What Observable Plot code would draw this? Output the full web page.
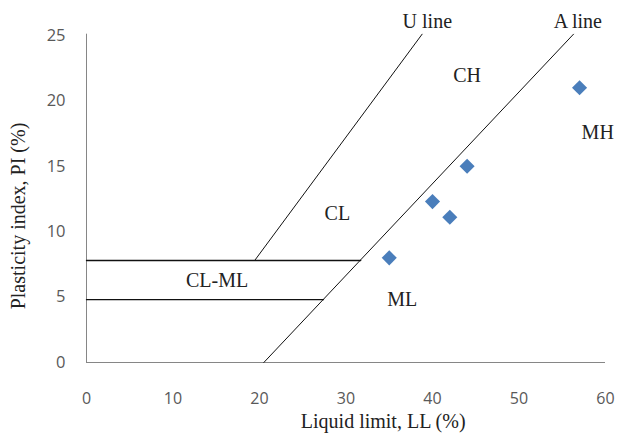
<!DOCTYPE html>
<html>
<head>
<meta charset="utf-8">
<script src="https://cdn.jsdelivr.net/npm/d3@7"></script>
<script src="https://cdn.jsdelivr.net/npm/@observablehq/plot@0.6"></script>
<style>
  html, body { margin: 0; padding: 0; background: #fff; }
</style>
</head>
<body>
<div id="chart"></div>
<script>
// Soil samples: liquid limit (LL) and plasticity index (PI), in %
const soilLL = [35, 40, 42, 44, 57];
const soilPI = [8, 12.3, 11.1, 15, 21];

// Casagrande chart boundaries (end points)
const uLineLL = [19.5, 38.8];
const uLinePI = [7.85, 25.1];
const aLineLL = [20.5, 56.3];
const aLinePI = [0, 25.1];
const clmlTopLL = [0, 31.7];
const clmlTopPI = [7.8, 7.8];
const clmlBottomLL = [0, 27.4];
const clmlBottomPI = [4.8, 4.8];

// Zone and line names, placed in chart units
const zoneNames = ["U line", "A line", "CH", "MH", "CL", "CL-ML", "ML"];
const zoneLL = [39.4, 56.8, 44.0, 59.1, 29.0, 15.1, 36.5];
const zonePI = [26.1, 26.1, 21.9, 17.6, 11.4, 6.3, 4.8];

// Axis ticks and titles
const xTicks = [0, 10, 20, 30, 40, 50, 60];
const yTicks = [0, 5, 10, 15, 20, 25];
const xTitle = "Liquid limit, LL (%)";
const yTitle = "Plasticity index, PI (%)";

const pts = (xs, ys) => xs.map((x, i) => ({x, y: ys[i]}));

const samples = pts(soilLL, soilPI);
const zones = zoneNames.map((name, i) => ({name, x: zoneLL[i], y: zonePI[i]}));

const serif = "'Liberation Serif', 'Times New Roman', serif";
const sans = "'Open Sans', 'Liberation Sans', sans-serif";

const slanted = {x: "x", y: "y", stroke: "#111", strokeWidth: 1};
const level = {x: "x", y: "y", stroke: "#111", strokeWidth: 1.3};

const chart = Plot.plot({
  width: 619,
  height: 436,
  marginLeft: 86,
  marginRight: 14,
  marginTop: 35,
  marginBottom: 74,
  x: {domain: [0, 60]},
  y: {domain: [0, 25]},
  style: {background: "#fff", overflow: "visible"},
  marks: [
    Plot.axisX(xTicks, {tickSize: 0, tickPadding: 30, fontSize: 16, fontFamily: sans, fill: "#595959", label: null}),
    Plot.axisY(yTicks, {tickSize: 0, tickPadding: 21, fontSize: 16.5, fontFamily: sans, fill: "#595959", label: null}),
    Plot.ruleX([0], {y1: 0, y2: 25.1, stroke: "#868686", strokeWidth: 1}),
    Plot.ruleY([0], {x1: 0, x2: 60, stroke: "#868686", strokeWidth: 1}),
    Plot.line(pts(uLineLL, uLinePI), slanted),
    Plot.line(pts(aLineLL, aLinePI), slanted),
    Plot.line(pts(clmlTopLL, clmlTopPI), level),
    Plot.line(pts(clmlBottomLL, clmlBottomPI), level),
    Plot.dot(samples, {x: "x", y: "y", symbol: "diamond2", r: 6.8, fill: "#4a7ebb", stroke: "none"}),
    Plot.text(zones, {x: "x", y: "y", text: "name", fontFamily: serif, fontSize: 20, fill: "#222"}),
    Plot.text([xTitle], {x: [34.3], frameAnchor: "bottom", lineAnchor: "middle", dy: 59, fontFamily: serif, fontSize: 20, fill: "#222"}),
    Plot.text([yTitle], {y: [11.2], frameAnchor: "left", textAnchor: "middle", lineAnchor: "middle", dx: -68, rotate: -90, fontFamily: serif, fontSize: 20, fill: "#222"})
  ]
});

document.getElementById("chart").appendChild(chart);
</script>
</body>
</html>
